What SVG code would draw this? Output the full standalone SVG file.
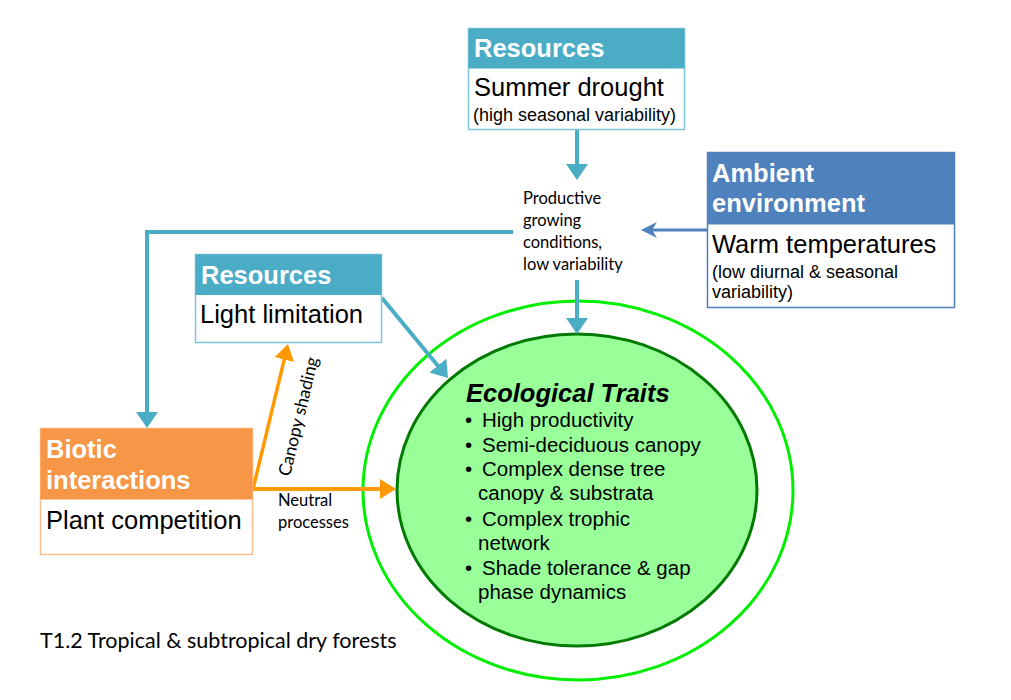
<svg xmlns="http://www.w3.org/2000/svg" width="1011" height="700" viewBox="0 0 1011 700">
<defs>
<style>
.hdr{font-family:"Liberation Sans",Arial,sans-serif;font-weight:bold;font-size:25.5px;fill:#ffffff}
.body{font-family:"Liberation Sans",Arial,sans-serif;font-size:25.5px;fill:#000000}
.small{font-family:"Liberation Sans",Arial,sans-serif;font-size:18px;fill:#000000}
.cal{font-family:Lato,"Open Sans",sans-serif;font-size:16.5px;fill:#000000}
.trait{font-family:"Liberation Sans",Arial,sans-serif;font-size:20.5px;fill:#000000}
.traitT{font-family:"Liberation Sans",Arial,sans-serif;font-size:25.5px;font-weight:bold;font-style:italic;fill:#000000}
.blue{stroke:#4bacc6;stroke-width:4;fill:none}
.orange{stroke:#ff9900;stroke-width:3.5;fill:none}
</style>
<marker id="ab" markerUnits="userSpaceOnUse" markerWidth="16" markerHeight="22" viewBox="0 0 16 22" refX="2" refY="11" orient="auto">
<path d="M0,0 L16,11 L0,22 z" fill="#4bacc6"/>
</marker>
<marker id="ao" markerUnits="userSpaceOnUse" markerWidth="16" markerHeight="20" viewBox="0 0 16 20" refX="2" refY="10" orient="auto">
<path d="M0,0 L16,10 L0,20 z" fill="#ff9900"/>
</marker>
<marker id="as" markerUnits="userSpaceOnUse" markerWidth="17" markerHeight="18" viewBox="0 -9 17 18" refX="5" refY="0" orient="auto">
<path d="M0,-8 L16,0 L0,8 L5,0 z" fill="#4f81bd"/>
</marker>
</defs>
<rect width="1011" height="700" fill="#ffffff"/>

<g id="ellipses">
<ellipse cx="578" cy="490.5" rx="215" ry="189.5" fill="none" stroke="#00ee00" stroke-width="3"/>
<ellipse cx="577" cy="490" rx="180" ry="156" fill="#99ff99" stroke="#007a00" stroke-width="3"/>
</g>

<g id="connectors">
<line class="blue" x1="577" y1="130" x2="577" y2="166" marker-end="url(#ab)"/>
<line class="blue" x1="577" y1="280" x2="577" y2="320" marker-end="url(#ab)"/>
<polyline class="blue" points="513,232 147,232 147,414" marker-end="url(#ab)"/>
<line class="blue" x1="382" y1="298" x2="439.1" y2="367.2" marker-end="url(#ab)"/>
<line x1="707" y1="230" x2="652" y2="230" stroke="#4f81bd" stroke-width="3" marker-end="url(#as)"/>
<polyline class="orange" points="382,489 253,489 284.7,357.6" marker-end="url(#ao)"/>
<line class="orange" x1="253" y1="489" x2="382" y2="489" marker-end="url(#ao)"/>
</g>

<g id="resources-top">
<rect x="468.5" y="28.5" width="216" height="101" fill="#ffffff" stroke="#7cc4d8" stroke-width="1.5"/>
<rect x="468.5" y="28.5" width="216" height="40" fill="#4bacc6"/>
<text class="hdr" x="474" y="57">Resources</text>
<text class="body" x="474" y="96">Summer drought</text>
<text class="small" x="473" y="121">(high seasonal variability)</text>
</g>

<g id="ambient">
<rect x="707.5" y="152.5" width="247" height="155" fill="#ffffff" stroke="#4f81bd" stroke-width="1.5"/>
<rect x="707.5" y="152.5" width="247" height="72" fill="#4f81bd"/>
<text class="hdr" x="712" y="182">Ambient</text>
<text class="hdr" x="712" y="212">environment</text>
<text class="body" x="712" y="253">Warm temperatures</text>
<text class="small" x="712" y="278">(low diurnal &amp; seasonal</text>
<text class="small" x="712" y="298">variability)</text>
</g>

<g id="productive">
<text class="cal" x="523" y="204">Productive</text>
<text class="cal" x="523" y="226">growing</text>
<text class="cal" x="523" y="248">conditions,</text>
<text class="cal" x="523" y="270">low variability</text>
</g>

<g id="resources-light">
<rect x="195.5" y="254.5" width="186" height="88" fill="#ffffff" stroke="#7cc4d8" stroke-width="1.5"/>
<rect x="195.5" y="254.5" width="186" height="40.5" fill="#4bacc6"/>
<text class="hdr" x="201" y="284">Resources</text>
<text class="body" x="200" y="323">Light limitation</text>
</g>

<g id="biotic">
<rect x="40.5" y="428.5" width="212" height="126" fill="#ffffff" stroke="#fbbf8f" stroke-width="1.5"/>
<rect x="40.5" y="428.5" width="212" height="71" fill="#f79646"/>
<text class="hdr" x="46" y="458">Biotic</text>
<text class="hdr" x="46" y="489">interactions</text>
<text class="body" x="46" y="529">Plant competition</text>
</g>

<g id="labels">
<text class="cal" transform="translate(290,477) rotate(-76.5)" style="font-size:17.5px">Canopy shading</text>
<text class="cal" x="278" y="506">Neutral</text>
<text class="cal" x="278" y="528">processes</text>
</g>

<g id="traits">
<text class="traitT" x="466" y="402">Ecological Traits</text>
<g class="trait">
<text x="465" y="427">•</text><text x="482" y="427">High productivity</text>
<text x="465" y="452">•</text><text x="482" y="452">Semi-deciduous canopy</text>
<text x="465" y="476">•</text><text x="482" y="476">Complex dense tree</text>
<text x="478" y="500">canopy &amp; substrata</text>
<text x="465" y="526">•</text><text x="482" y="526">Complex trophic</text>
<text x="478" y="550">network</text>
<text x="465" y="575">•</text><text x="482" y="575">Shade tolerance &amp; gap</text>
<text x="478" y="599">phase dynamics</text>
</g>
</g>

<text id="caption" x="40" y="648" style="font-family:Lato,'Open Sans',sans-serif;font-size:21.5px;fill:#000000">T1.2 Tropical &amp; subtropical dry forests</text>
</svg>
